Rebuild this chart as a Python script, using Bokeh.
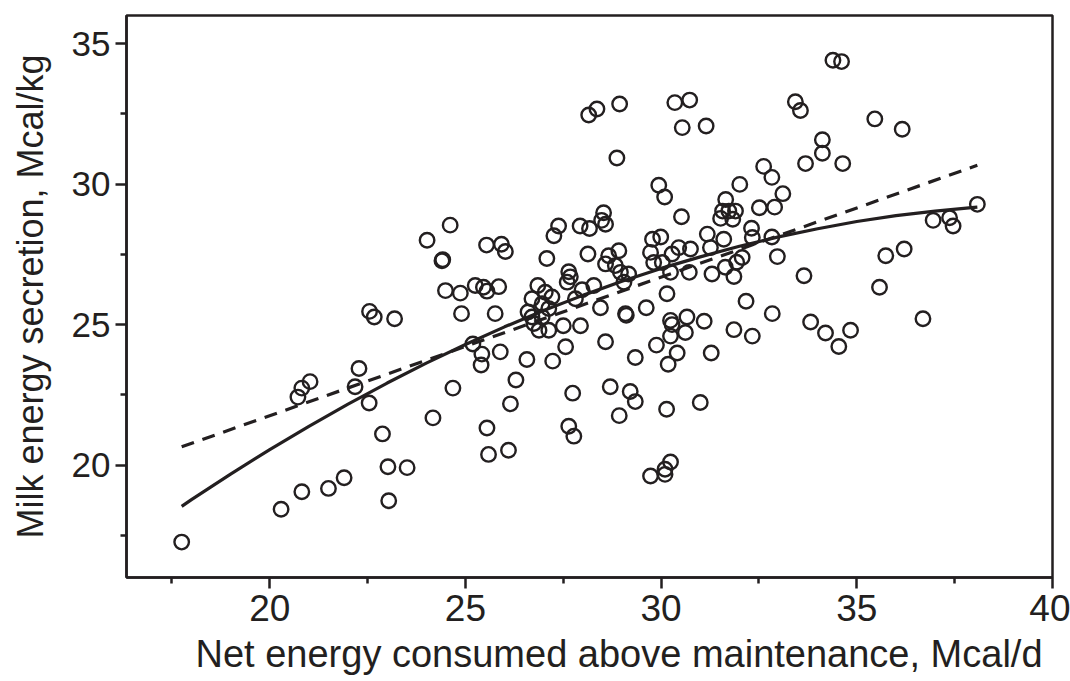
from bokeh.plotting import figure
from bokeh.models import FixedTicker, Range1d, Title
from bokeh.embed import file_html
from bokeh.resources import INLINE

# ---- data ----
net_energy = [
    17.75, 20.29, 20.82, 21.50, 21.90, 23.04, 23.02, 23.51, 22.88, 24.17,
    24.68, 22.54, 22.18, 22.28, 20.72, 20.82, 21.03, 22.55, 22.67, 23.19,
    24.40, 24.42, 24.02, 24.61, 24.49, 24.87, 24.90, 25.19, 25.42, 25.40,
    25.89, 26.57, 27.23, 27.56, 28.58, 29.34, 29.88, 30.24, 30.41, 30.18,
    26.29, 26.15, 25.55, 25.59, 26.10, 27.74, 27.64, 27.77, 28.70, 29.21,
    29.34, 28.93, 30.14, 29.73, 30.10, 30.24, 30.10, 31.00, 31.28, 31.86,
    32.33, 32.17, 32.84, 33.82, 34.20, 34.84, 34.54, 36.69, 35.58, 33.65,
    35.74, 36.21, 36.95, 37.37, 37.46, 38.08, 34.39, 34.61, 33.43, 33.56,
    35.46, 36.16, 34.12, 34.12, 33.69, 34.64, 32.62, 32.83, 32.01, 33.11,
    31.65, 32.51, 32.90, 31.57, 31.73, 31.90, 31.52, 31.83, 32.31, 32.33,
    32.83, 31.18, 31.60, 31.26, 30.75, 32.97, 32.07, 31.93, 31.64, 31.30,
    31.86, 30.72, 30.24, 30.15, 31.10, 30.66, 30.24, 30.28, 30.62, 29.62,
    29.09, 29.11, 28.45, 27.94, 27.50, 26.88, 27.13, 26.75, 26.60, 26.70,
    26.96, 27.13, 26.85, 27.04, 27.21, 26.70, 26.96, 27.81, 27.98, 28.28,
    27.64, 27.68, 27.60, 27.08, 28.13, 28.66, 28.92, 28.58, 28.83, 28.96,
    29.17, 29.05, 29.78, 29.99, 29.73, 29.81, 30.03, 30.28, 30.45, 27.38,
    27.26, 27.93, 28.17, 28.53, 28.48, 28.58, 28.87, 29.94, 30.09, 30.52,
    25.54, 25.92, 26.02, 25.25, 25.46, 25.55, 25.85, 25.76, 28.15, 28.36,
    28.94, 30.35, 30.73, 30.54, 31.15,
]
milk_energy = [
    17.26, 18.43, 19.05, 19.17, 19.55, 18.73, 19.94, 19.91, 21.11, 21.68,
    22.74, 22.21, 22.79, 23.44, 22.42, 22.74, 22.97, 25.47, 25.27, 25.21,
    27.27, 27.31, 28.00, 28.54, 26.21, 26.12, 25.39, 24.31, 23.95, 23.56,
    24.03, 23.76, 23.70, 24.21, 24.39, 23.83, 24.27, 24.59, 23.99, 23.59,
    23.03, 22.18, 21.32, 20.38, 20.53, 22.56, 21.38, 21.03, 22.79, 22.62,
    22.26, 21.76, 21.99, 19.61, 19.67, 20.11, 19.85, 22.23, 23.99, 24.82,
    24.59, 25.83, 25.39, 25.09, 24.70, 24.80, 24.22, 25.21, 26.33, 26.74,
    27.45, 27.69, 28.71, 28.80, 28.51, 29.28, 34.41, 34.36, 32.93, 32.62,
    32.32, 31.95, 31.58, 31.10, 30.73, 30.73, 30.63, 30.24, 29.99, 29.66,
    29.45, 29.16, 29.18, 29.04, 29.04, 29.04, 28.78, 28.75, 28.43, 28.10,
    28.12, 28.22, 28.04, 27.74, 27.69, 27.42, 27.39, 27.22, 27.04, 26.80,
    26.71, 26.86, 26.86, 26.10, 25.12, 25.27, 25.15, 25.00, 24.72, 25.60,
    25.39, 25.33, 25.60, 24.96, 24.96, 24.80, 24.80, 25.04, 25.45, 25.27,
    25.27, 25.57, 26.39, 26.15, 25.98, 25.92, 25.74, 25.92, 26.24, 26.39,
    26.88, 26.70, 26.51, 27.35, 27.51, 27.45, 27.63, 27.16, 27.10, 26.86,
    26.80, 26.51, 28.04, 28.12, 27.57, 27.21, 27.21, 27.51, 27.74, 28.51,
    28.16, 28.51, 28.42, 28.98, 28.71, 28.57, 30.93, 29.96, 29.54, 28.84,
    27.83, 27.86, 27.60, 26.39, 26.33, 26.19, 26.35, 25.39, 32.46, 32.67,
    32.85, 32.90, 32.99, 32.01, 32.07,
]

# fitted curves
curve_x = [17.75, 18, 19, 20, 21, 22, 23, 24, 25, 26, 27, 28, 29, 30,
           31, 32, 33, 34, 35, 36, 37, 38, 38.08]
curve_y = [18.53, 18.77, 19.68, 20.55, 21.38, 22.17, 22.92, 23.63, 24.29,
           24.92, 25.50, 26.04, 26.54, 27.00, 27.41, 27.79, 28.12, 28.41,
           28.67, 28.88, 29.04, 29.17, 29.18]
line_x = [17.75, 38.08]
line_y = [20.65, 30.67]

x_major = [20, 25, 30, 35, 40]
x_minor = [17.5, 22.5, 27.5, 32.5, 37.5]
y_major = [20, 25, 30, 35]
y_minor = [17.5, 22.5, 27.5, 32.5]

x_title = "Net energy consumed above maintenance, Mcal/d"
y_title = "Milk energy secretion, Mcal/kg"

INK = "#231f20"
FONT = "Liberation Sans"

p = figure(width=1070, height=681, output_backend="svg", toolbar_location=None,
           x_range=Range1d(16.34, 40.0), y_range=Range1d(16.0, 36.0),
           min_border_left=126, min_border_right=18, min_border_top=15,
           min_border_bottom=103)
p.background_fill_color = "white"
p.border_fill_color = "white"
p.outline_line_color = INK
p.outline_line_width = 2.5
p.xgrid.visible = False
p.ygrid.visible = False

p.line(line_x, line_y, line_color=INK, line_width=3.2, line_dash="13 9")
p.line(curve_x, curve_y, line_color=INK, line_width=3.2)
p.scatter(net_energy, milk_energy, marker="circle", size=14.5,
          fill_alpha=0, line_color=INK, line_width=2.4)

for ax, maj, mnr in ((p.xaxis[0], x_major, x_minor), (p.yaxis[0], y_major, y_minor)):
    ax.ticker = FixedTicker(ticks=maj, minor_ticks=mnr)
    ax.axis_line_color = INK
    ax.axis_line_width = 2.5
    ax.major_tick_line_color = INK
    ax.major_tick_line_width = 2.5
    ax.minor_tick_line_color = INK
    ax.minor_tick_line_width = 2.5
    ax.major_tick_out = 11
    ax.major_tick_in = 0
    ax.minor_tick_out = 6
    ax.minor_tick_in = 0
    ax.major_label_text_font = FONT
    ax.major_label_text_color = INK
    ax.axis_label_text_font = FONT
    ax.axis_label_text_font_style = "normal"
    ax.axis_label_text_color = INK

p.xaxis[0].major_label_text_font_size = "37px"
p.xaxis[0].major_label_standoff = 6
p.yaxis[0].major_label_text_font_size = "35px"
p.yaxis[0].major_label_standoff = 5

p.yaxis[0].axis_label = y_title
p.yaxis[0].axis_label_text_font_size = "36px"
p.yaxis[0].axis_label_standoff = 18

p.add_layout(Title(text=x_title, align="left", offset=69, standoff=14,
                   text_font=FONT, text_font_size="38px",
                   text_font_style="normal", text_color=INK), "below")

open("out.html", "w").write(file_html(p, INLINE))
